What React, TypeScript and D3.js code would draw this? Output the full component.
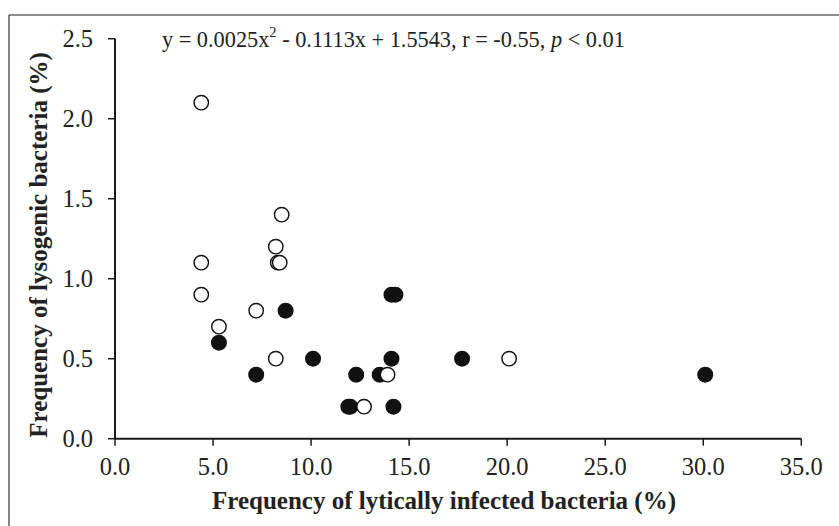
import React from "react";
import * as d3 from "d3";

const openX = [4.4, 8.5, 8.2, 4.4, 8.3, 8.4, 4.4, 5.3, 7.2, 8.2, 12.7, 13.9, 20.1];
const openY = [2.1, 1.4, 1.2, 1.1, 1.1, 1.1, 0.9, 0.7, 0.8, 0.5, 0.2, 0.4, 0.5];
const filledX = [5.3, 7.2, 8.7, 10.1, 12.3, 11.9, 12.0, 13.5, 14.1, 14.1, 14.3, 14.2, 17.7, 30.1];
const filledY = [0.6, 0.4, 0.8, 0.5, 0.4, 0.2, 0.2, 0.4, 0.5, 0.9, 0.9, 0.2, 0.5, 0.4];
const xTicks = [0, 5, 10, 15, 20, 25, 30, 35];
const yTicks = [0, 0.5, 1.0, 1.5, 2.0, 2.5];
const xTitle = "Frequency of lytically infected bacteria (%)";
const yTitle = "Frequency of lysogenic bacteria (%)";

const W = 839;
const H = 526;
const FONT = "Liberation Serif, Tinos, Times New Roman, Times, DejaVu Serif, serif";

export default function App() {
  const x = d3.scaleLinear().domain([0, 35]).range([115, 801.3]);
  const y = d3.scaleLinear().domain([0, 2.5]).range([438.7, 38.7]);
  const fmt = d3.format(".1f");
  const axisColor = "#1a1a1a";
  const ts = { fontFamily: FONT } as React.CSSProperties;

  return (
    <svg
      width={W}
      height={H}
      style={{ position: "absolute", left: 0, top: 0, background: "#fff", fontFamily: FONT }}
    >
      <rect x={0} y={0} width={W} height={H} fill="#fff" />
      {/* outer frame */}
      <line x1={9} y1={15} x2={W} y2={15} stroke="#666" strokeWidth={1.6} />
      <line x1={9} y1={15} x2={9} y2={H} stroke="#333" strokeWidth={1.2} />

      {/* axes */}
      <line x1={x(0)} y1={y(0)} x2={x(35)} y2={y(0)} stroke={axisColor} strokeWidth={2} />
      <line x1={x(0)} y1={y(0)} x2={x(0)} y2={y(2.5)} stroke={axisColor} strokeWidth={2} />

      {xTicks.map((t) => (
        <g key={"xt" + t}>
          <line x1={x(t)} x2={x(t)} y1={y(0)} y2={y(0) + 7} stroke={axisColor} strokeWidth={1.5} />
          <text x={x(t)} y={y(0) + 36.5} textAnchor="middle" fontSize={24.5} fill="#222" style={ts}>
            {fmt(t)}
          </text>
        </g>
      ))}
      {yTicks.map((t) => (
        <g key={"yt" + t}>
          <line x1={x(0) - 7} x2={x(0)} y1={y(t)} y2={y(t)} stroke={axisColor} strokeWidth={1.5} />
          <text x={93} y={y(t) + 8} textAnchor="end" fontSize={24.5} fill="#222" style={ts}>
            {fmt(t)}
          </text>
        </g>
      ))}

      {/* axis titles */}
      <text
        x={444}
        y={509}
        textAnchor="middle"
        fontSize={25}
        fontWeight="bold"
        fill="#222"
        style={ts}
      >
        {xTitle}
      </text>
      <text
        transform={`translate(47, 245) rotate(-90)`}
        textAnchor="middle"
        fontSize={25}
        fontWeight="bold"
        fill="#222"
        style={ts}
      >
        {yTitle}
      </text>

      {/* equation */}
      <text x={162} y={47} fontSize={22.3} fill="#222" style={ts}>
        y = 0.0025x
        <tspan dy={-10} fontSize={14.5}>2</tspan>
        <tspan dy={10}> - 0.1113x + 1.5543, r = -0.55, </tspan>
        <tspan fontStyle="italic">p</tspan>
        <tspan> &lt; 0.01</tspan>
      </text>

      {/* points */}
      {filledX.map((v, i) => (
        <circle key={"f" + i} cx={x(v)} cy={y(filledY[i])} r={8} fill="#111" />
      ))}
      {openX.map((v, i) => (
        <circle
          key={"o" + i}
          cx={x(v)}
          cy={y(openY[i])}
          r={7.2}
          fill="#fff"
          stroke="#111"
          strokeWidth={1.4}
        />
      ))}
    </svg>
  );
}
